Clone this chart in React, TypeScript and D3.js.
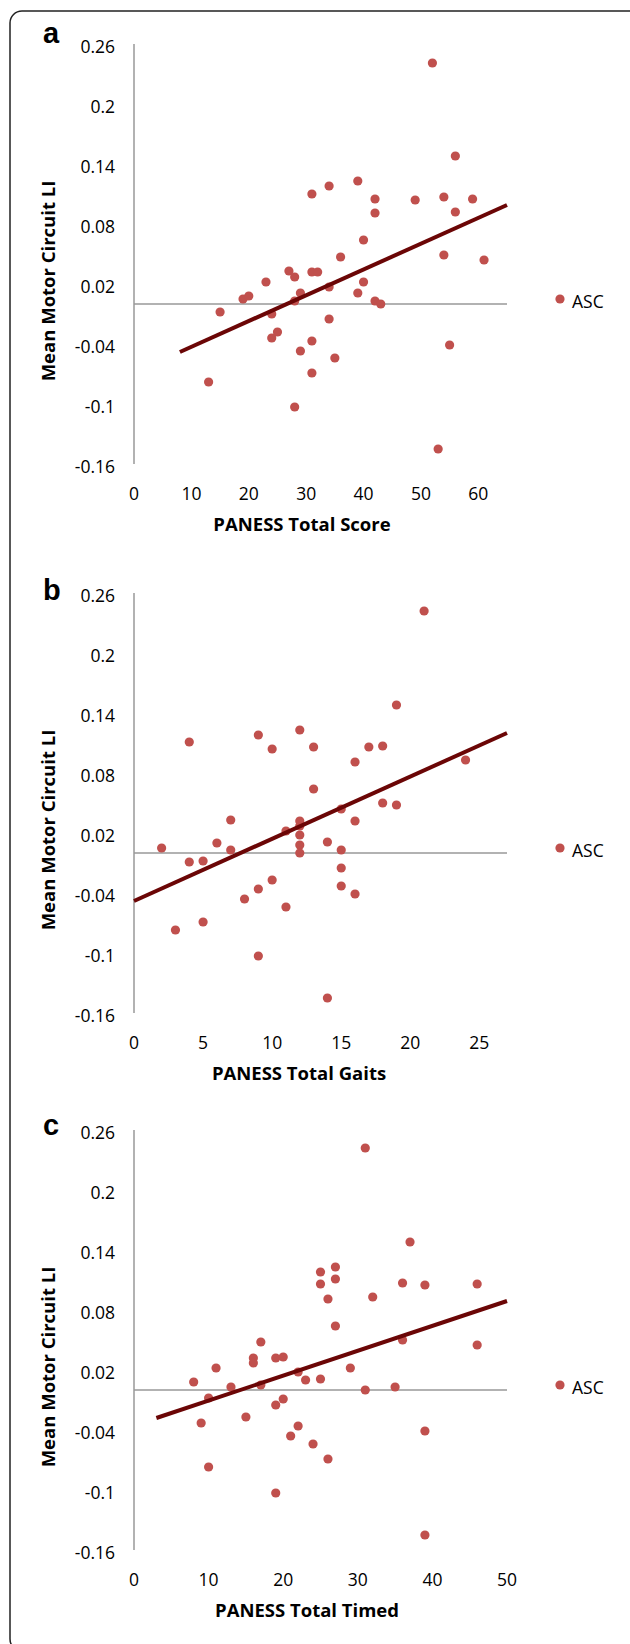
import React from 'react';
import * as d3 from 'd3';

// values (PANESS vs mean motor circuit LI, ASC group)
const scoreX = [52,56,39,34,31,42,49,54,59,42,56,40,36,54,61,27,28,31,32,23,40,34,19,20,29,28,39,42,43,15,24,34,25,24,31,29,35,55,13,31,28,53];
const scoreY = [0.241,0.148,0.123,0.118,0.110,0.105,0.104,0.107,0.105,0.091,0.092,0.064,0.047,0.049,0.044,0.033,0.027,0.032,0.032,0.022,0.022,0.017,0.005,0.008,0.011,0.003,0.011,0.003,0.000,-0.008,-0.010,-0.015,-0.028,-0.034,-0.037,-0.047,-0.054,-0.041,-0.078,-0.069,-0.103,-0.145];

const gaitsX = [21,19,4,9,10,12,13,16,17,18,24,13,15,18,19,16,7,11,12,12,12,12,12,6,7,2,14,15,4,5,15,10,9,8,11,15,16,5,3,9,14];
const gaitsY = [0.242,0.148,0.111,0.118,0.104,0.123,0.106,0.091,0.106,0.107,0.093,0.064,0.044,0.050,0.048,0.032,0.033,0.022,0.032,0.027,0.018,0.008,0.000,0.010,0.003,0.005,0.011,0.003,-0.009,-0.008,-0.015,-0.027,-0.036,-0.046,-0.054,-0.033,-0.041,-0.069,-0.077,-0.103,-0.145];

const timedX = [31,37,25,27,25,27,26,32,36,39,46,27,36,46,17,16,16,19,20,11,29,8,13,17,22,23,25,31,35,10,20,19,9,15,22,21,24,26,39,10,19,39];
const timedY = [0.242,0.148,0.118,0.123,0.106,0.111,0.091,0.093,0.107,0.105,0.106,0.064,0.050,0.045,0.048,0.032,0.027,0.032,0.033,0.022,0.022,0.008,0.003,0.005,0.018,0.010,0.011,0.000,0.003,-0.008,-0.009,-0.015,-0.033,-0.027,-0.036,-0.046,-0.054,-0.069,-0.041,-0.077,-0.103,-0.145];

// trendline end points as drawn
const scoreTrend = [[8, -0.048], [65, 0.099]];
const gaitsTrend = [[0, -0.048], [27, 0.120]];
const timedTrend = [[3, -0.028], [50, 0.089]];

const yTicks = [0.26, 0.2, 0.14, 0.08, 0.02, -0.04, -0.1, -0.16];
const scoreTicks = [0, 10, 20, 30, 40, 50, 60];
const gaitsTicks = [0, 5, 10, 15, 20, 25];
const timedTicks = [0, 10, 20, 30, 40, 50];

const panels = [
  {letter: 'a', top: 44, xs: scoreX, ys: scoreY, trend: scoreTrend, ticks: scoreTicks, xMax: 65, title: 'PANESS Total Score', titleX: 302, letterY: 43},
  {letter: 'b', top: 593, xs: gaitsX, ys: gaitsY, trend: gaitsTrend, ticks: gaitsTicks, xMax: 27, title: 'PANESS Total Gaits', titleX: 299, letterY: 600},
  {letter: 'c', top: 1130, xs: timedX, ys: timedY, trend: timedTrend, ticks: timedTicks, xMax: 50, title: 'PANESS Total Timed', titleX: 307, letterY: 1135},
];

const left = 134, right = 507, plotH = 420;
const font = "'Open Sans', sans-serif";
const dotColor = '#C0504D';
const axisColor = '#989898';

const Panel = ({p}) => {
  const x = d3.scaleLinear().domain([0, p.xMax]).range([left, right]);
  const y = d3.scaleLinear().domain([-0.16, 0.26]).range([p.top + plotH, p.top]);
  const line = d3.line().x(d => x(d[0])).y(d => y(d[1]));
  const bottom = p.top + plotH;
  const midY = p.top + plotH / 2 + 27;

  return (
    <g>
      <text x={43} y={p.letterY} fontFamily="'Liberation Sans', Arial, sans-serif" fontWeight="bold" fontSize={29}>{p.letter}</text>
      <line x1={left} x2={left} y1={p.top} y2={bottom} stroke={axisColor} strokeWidth={1.5} />
      <line x1={left} x2={right} y1={y(0)} y2={y(0)} stroke={axisColor} strokeWidth={1.5} />
      {yTicks.map(t => (
        <text key={t} x={115} y={y(t) + 9} textAnchor="end" fontFamily={font} fontSize={17.5}>{String(t)}</text>
      ))}
      {p.ticks.map(t => (
        <text key={t} x={x(t)} y={bottom + 36} textAnchor="middle" fontFamily={font} fontSize={17.5}>{t}</text>
      ))}
      <text x={p.titleX} y={bottom + 67} textAnchor="middle" fontFamily={font} fontWeight="bold" fontSize={18.5}>{p.title}</text>
      <text transform={`translate(55,${midY}) rotate(-90)`} textAnchor="middle" fontFamily={font} fontWeight="bold" fontSize={18.5}>Mean Motor Circuit LI</text>
      {p.xs.map((v, i) => (
        <circle key={i} cx={x(v)} cy={y(p.ys[i])} r={4.6} fill={dotColor} />
      ))}
      <path d={line(p.trend)} stroke="#6B0606" strokeWidth={4} fill="none" />
      <circle cx={560} cy={p.top + 255} r={4.6} fill={dotColor} />
      <text x={572} y={p.top + 264} fontFamily={font} fontSize={17.5}>ASC</text>
    </g>
  );
};

export default function App() {
  return (
    <svg width={630} height={1644} style={{position: 'absolute', left: 0, top: 0, background: '#fff'}}>
      <rect x={0} y={0} width={630} height={1644} fill="#fff" />
      <rect x={10} y={11} width={640} height={1640} rx={12} fill="none" stroke="#222" strokeWidth={1.5} />
      {panels.map(p => <Panel key={p.letter} p={p} />)}
    </svg>
  );
}
